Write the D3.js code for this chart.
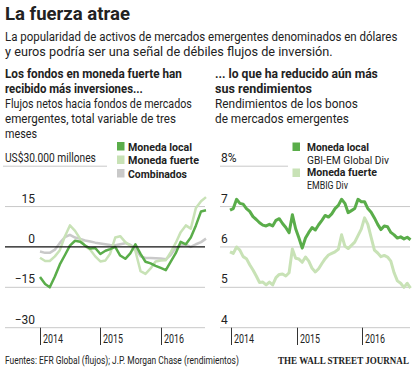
<!DOCTYPE html>
<html><head><meta charset="utf-8">
<script src="https://cdn.jsdelivr.net/npm/d3@7"></script>
<style>
html,body{margin:0;padding:0;background:#fff;}
svg{display:block;}
text{font-family:"Liberation Sans Narrow","Roboto","Liberation Sans",sans-serif;fill:#222;}
</style></head>
<body><svg id="c" width="420" height="370"></svg>
<script>
// ---------- data ----------
const flowMonths = ["2014-01","2014-02","2014-03","2014-04","2014-05","2014-06","2014-07","2014-08","2014-09","2014-10","2014-11","2014-12",
  "2015-01","2015-02","2015-03","2015-04","2015-05","2015-06","2015-07","2015-08","2015-09","2015-10","2015-11","2015-12",
  "2016-01","2016-02","2016-03","2016-04","2016-05","2016-06","2016-07","2016-08","2016-09","2016-10"];
const flowLocal = [-11.2,-13.8,-15.0,-11.0,-6.5,-3.0,0.5,2.3,1.9,0.5,-0.6,-0.4,
  -2.6,-1.4,-0.8,0.0,-3.2,-4.4,-2.4,1.0,-2.6,-5.5,-6.1,-7.0,
  -7.8,-8.6,-5.5,-2.3,1.9,1.0,3.5,8.0,13.2,13.6];
const flowHard = [-4.0,-5.2,-5.2,-3.5,-1.2,4.0,8.0,6.0,3.0,0.3,-1.0,-3.5,
  -5.4,-5.0,-2.5,3.5,4.0,1.8,0.5,-1.5,-9.0,-10.0,-8.0,-5.4,
  -5.0,-4.9,-2.0,1.5,5.5,8.0,6.8,14.5,17.0,18.5];
const flowCombined = [-1.7,-2.2,-2.2,-1.0,1.5,3.7,4.5,3.5,3.0,2.4,2.0,1.6,
  1.3,1.0,0.7,0.6,1.0,1.4,0.8,-0.5,-3.5,-4.1,-4.1,-4.2,
  -4.3,-4.6,-3.0,-0.3,0.6,0.9,0.0,1.0,1.8,3.1];
const flowTicks = [30,15,0,-15,-30];
const flowTickLabels = ["US$30.000 millones","15","0","\u221215","\u221230"];

const yieldStart = 2013.985, yieldStep = 0.05;
const yieldLocal = [6.91,6.95,7.18,7.08,7.06,6.95,6.88,6.75,6.68,6.60,6.54,6.52,6.56,6.52,6.66,6.70,6.58,6.48,6.35,6.80,
  6.45,6.22,5.97,6.22,6.36,6.48,6.42,6.55,6.66,6.78,6.74,6.82,6.95,7.03,7.18,7.08,6.85,6.90,6.95,7.18,
  7.12,7.12,6.95,6.86,6.72,6.56,6.43,6.52,6.50,6.36,6.30,6.22,6.25,6.20,6.24,6.18];
const yieldHard = [5.88,5.84,6.00,5.92,5.76,5.71,5.56,5.43,5.28,5.12,5.13,5.06,5.13,5.06,5.24,5.32,5.33,5.28,5.36,5.95,
  5.72,5.70,5.62,5.75,5.65,5.47,5.38,5.46,5.59,5.71,5.80,5.84,5.88,5.94,6.30,6.02,5.96,6.04,6.12,6.28,
  6.44,6.72,6.56,6.24,5.92,5.85,5.76,5.79,5.75,5.65,5.36,5.16,5.10,5.00,5.10,4.98];
const yieldTicks = [8,7,6,5,4];
const yieldTickLabels = ["8%","7","6","5","4"];
const years = [2014,2015,2016];

const COL_LOCAL = "#5aad4a", COL_HARD = "#c8e2b6", COL_COMB = "#c9c9c9", GRID = "#c8c8c8";

// ---------- helpers ----------
const svg = d3.select("#c");
function txt(x, y, s, o = {}) {
  const t = svg.append("text").text(s)
    .attr("font-size", o.size || 12).attr("font-weight", o.bold ? "bold" : "normal");
  if (o.anchor) t.attr("text-anchor", o.anchor);
  if (o.family) t.style("font-family", o.family);
  if (o.len) {
    t.attr("x", 0).attr("y", 0);
    const w = t.node().getComputedTextLength();
    const k = o.len / w;
    t.attr("transform", `translate(${x},${y}) scale(${k.toFixed(4)},1)`);
  } else {
    t.attr("x", x).attr("y", y);
  }
  return t;
}

// ---------- headings ----------
txt(5, 20, "La fuerza atrae", {size: 18, bold: true, len: 125});
txt(5, 41, "La popularidad de activos de mercados emergentes denominados en dólares", {size: 13, len: 393});
txt(5, 56, "y euros podría ser una señal de débiles flujos de inversión.", {size: 13, len: 328});

txt(5, 78, "Los fondos en moneda fuerte han", {size: 12.5, bold: true, len: 177});
txt(5, 93, "recibido más inversiones...", {size: 12.5, bold: true, len: 138});
txt(5, 108, "Flujos netos hacia fondos de mercados", {size: 12.5, len: 187});
txt(5, 123, "emergentes, total variable de tres", {size: 12.5, len: 171});
txt(5, 138, "meses", {size: 12.5, len: 32});

txt(215, 78, "... lo que ha reducido aún más", {size: 12.5, bold: true, len: 163});
txt(215, 93, "sus rendimientos", {size: 12.5, bold: true, len: 97});
txt(215, 108, "Rendimientos de los bonos", {size: 12.5, len: 143});
txt(215, 123, "de mercados emergentes", {size: 12.5, len: 134});

// ---------- left chart ----------
const yL = d3.scaleLinear().domain([-30, 30]).range([327.7, 166.2]);
const xL = d3.scaleTime().domain([new Date(2014,0,1), new Date(2016,9,1)]).range([40, 206]);
const parseM = d3.timeParse("%Y-%m");
const fDates = flowMonths.map(parseM);

flowTicks.forEach((v, i) => {
  if (v === 30) {
    svg.append("line").attr("x1", 3).attr("x2", 107).attr("y1", yL(v)).attr("y2", yL(v)).attr("stroke", GRID);
    txt(5, yL(v) - 4, flowTickLabels[i], {size: 12, len: 91});
  } else if (v !== 0) {
    svg.append("line").attr("x1", 5).attr("x2", 205).attr("y1", yL(v)).attr("y2", yL(v)).attr("stroke", GRID);
    txt(35, yL(v) - 4, flowTickLabels[i], {size: 12, anchor: "end"});
  } else {
    txt(35, yL(v) - 4, flowTickLabels[i], {size: 12, anchor: "end"});
  }
});

const lineL = d3.line().x((d, i) => xL(fDates[i])).y(d => yL(d));
[[flowCombined, COL_COMB], [flowHard, COL_HARD], [flowLocal, COL_LOCAL]].forEach(([s, c]) => {
  svg.append("path").attr("d", lineL(s)).attr("fill", "none").attr("stroke", c)
    .attr("stroke-width", 2.5).attr("stroke-linejoin", "round");
});
svg.append("line").attr("x1", 5).attr("x2", 205).attr("y1", yL(0)).attr("y2", yL(0)).attr("stroke", "#111").attr("stroke-width", 1.3);

years.forEach(y => {
  const x = Math.round(xL(new Date(y, 0, 1))) + 0.5;
  svg.append("line").attr("x1", x).attr("x2", x).attr("y1", yL(-30)).attr("y2", 345).attr("stroke", "#333");
  txt(x + 2.5, 343, String(y), {size: 12, len: 20});
});

// left legend
[["Moneda local", COL_LOCAL, 64], ["Moneda fuerte", COL_HARD, 71], ["Combinados", COL_COMB, 59]].forEach(([n, c, w], i) => {
  const y0 = 142 + i * 13.5;
  svg.append("rect").attr("x", 117).attr("y", y0).attr("width", 7.5).attr("height", 8.5).attr("fill", c);
  txt(128, y0 + 8.5, n, {size: 11, bold: true, len: w});
});

// ---------- right chart ----------
const yR = d3.scaleLinear().domain([4, 8]).range([327.7, 166.2]);
const xR = d3.scaleLinear().domain([2014, 2016.75]).range([231, 411.5]);

yieldTicks.forEach((v, i) => {
  const x2 = v === 8 ? 288 : 410;
  svg.append("line").attr("x1", 220).attr("x2", x2).attr("y1", yR(v)).attr("y2", yR(v)).attr("stroke", GRID);
  txt(221, yR(v) - 4, yieldTickLabels[i], {size: 12});
});

const lineR = d3.line().x((d, i) => xR(yieldStart + i * yieldStep)).y(d => yR(d));
[[yieldHard, COL_HARD], [yieldLocal, COL_LOCAL]].forEach(([s, c]) => {
  svg.append("path").attr("d", lineR(s)).attr("fill", "none").attr("stroke", c)
    .attr("stroke-width", 3).attr("stroke-linejoin", "round");
});

years.forEach(y => {
  const x = Math.round(xR(y)) + 0.5;
  svg.append("line").attr("x1", x).attr("x2", x).attr("y1", yR(4)).attr("y2", 345).attr("stroke", "#333");
  txt(x + 2.5, 343, String(y), {size: 12, len: 20});
});

// right legend
svg.append("rect").attr("x", 292.5).attr("y", 142.5).attr("width", 7.5).attr("height", 8.5).attr("fill", COL_LOCAL);
txt(307, 150.5, "Moneda local", {size: 11, bold: true, len: 62});
txt(307, 163.5, "GBI-EM Global Div", {size: 11, len: 82});
svg.append("rect").attr("x", 292.5).attr("y", 168.5).attr("width", 7.5).attr("height", 8.5).attr("fill", COL_HARD);
txt(307, 176, "Moneda fuerte", {size: 11, bold: true, len: 70});
txt(307, 188.5, "EMBIG Div", {size: 11, len: 41});

// ---------- footer ----------
txt(5, 364, "Fuentes: EFR Global (flujos); J.P. Morgan Chase (rendimientos)", {size: 10.5, len: 234});
txt(278, 364, "THE WALL STREET JOURNAL", {size: 9.5, bold: true, len: 131, family: "'Liberation Serif','DejaVu Serif',serif"});
</script></body></html>
